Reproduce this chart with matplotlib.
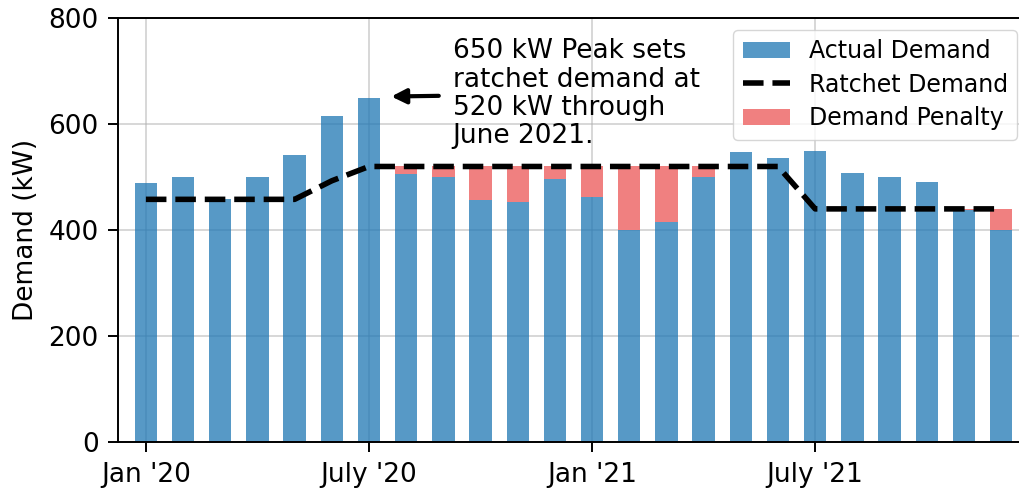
import numpy as np
import matplotlib
matplotlib.use("Agg")
import matplotlib.pyplot as plt

# monthly data, Jan 2020 - Dec 2021
months = ["Jan '20", "Feb '20", "Mar '20", "Apr '20", "May '20", "Jun '20",
          "July '20", "Aug '20", "Sep '20", "Oct '20", "Nov '20", "Dec '20",
          "Jan '21", "Feb '21", "Mar '21", "Apr '21", "May '21", "Jun '21",
          "July '21", "Aug '21", "Sep '21", "Oct '21", "Nov '21", "Dec '21"]
actual = [488, 500, 458, 500, 541, 616, 650, 505, 500, 457, 453, 496,
          462, 400, 415, 500, 548, 536, 550, 508, 500, 491, 438, 400]
ratchet = [458, 458, 458, 458, 458, 493, 520, 520, 520, 520, 520, 520,
           520, 520, 520, 520, 520, 520, 440, 440, 440, 440, 440, 440]
tick_idx = [0, 6, 12, 18]
tick_labels = ["Jan '20", "July '20", "Jan '21", "July '21"]

actual = np.array(actual)
ratchet = np.array(ratchet)
penalty = np.clip(ratchet - actual, 0, None)
x = np.arange(len(months))

plt.rcParams['font.size'] = 19
fig, ax = plt.subplots(figsize=(10.19, 4.88), dpi=100)
# axes run a little past the right edge, as in the original crop
fig.subplots_adjust(left=0.1158, right=1.0098, top=0.963, bottom=0.094)

b1 = ax.bar(x, actual, width=0.6, color='tab:blue', alpha=0.75, label='Actual Demand', zorder=2)
l1, = ax.plot(x, ratchet, 'k--', lw=4, label='Ratchet Demand', zorder=3)
b2 = ax.bar(x, penalty, width=0.6, bottom=actual, color='lightcoral', label='Demand Penalty', zorder=2)

ax.annotate("650 kW Peak sets\nratchet demand at\n520 kW through\nJune 2021.",
            xy=(6.6, 652), xytext=(8.25, 657), ha='left', va='center',
            linespacing=1.12,
            arrowprops=dict(arrowstyle='-|>', color='black', lw=3,
                            mutation_scale=22, shrinkA=8, shrinkB=0))

ax.set_xticks(tick_idx)
ax.set_xticklabels(tick_labels)
ax.set_xlim(-0.75, 23.75)
ax.set_ylim(0, 800)
ax.set_yticks([0, 200, 400, 600, 800])
ax.set_ylabel("Demand (kW)", labelpad=7)
ax.grid(True, color='#b0b0b0', alpha=0.5, lw=1.4, zorder=0)
ax.set_axisbelow(True)
ax.tick_params(length=7, width=1.4, pad=7)
for s in ax.spines.values():
    s.set_linewidth(1.4)

ax.legend([b1, l1, b2], ['Actual Demand', 'Ratchet Demand', 'Demand Penalty'],
          loc='upper right', fontsize=17, handlelength=2.0, borderaxespad=0.5,
          labelspacing=0.4)

plt.savefig("out.png", dpi=100)
